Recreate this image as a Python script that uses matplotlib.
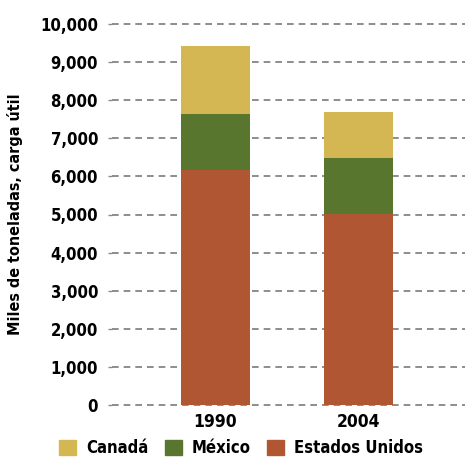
import matplotlib
matplotlib.use("Agg")
import matplotlib.pyplot as plt
from matplotlib.patches import Patch
import numpy as np

# Datos (miles de toneladas, carga útil)
years = ["1990", "2004"]
estados_unidos = [6180, 5020]
mexico = [1455, 1460]
canada = [1790, 1210]

series_names = ["Canadá", "México", "Estados Unidos"]
colors = {"Canadá": "#D4B652", "México": "#59762E", "Estados Unidos": "#B05632"}

plt.rcParams['font.family'] = ['DejaVu Sans']
plt.rcParams['font.stretch'] = 'condensed'
plt.rcParams['font.weight'] = 'bold'
plt.rcParams['axes.labelweight'] = 'bold'

fig = plt.figure(figsize=(4.7, 4.7), dpi=100)
ax = fig.add_axes([112 / 470, 65 / 470, 353 / 470, 381 / 470])

x = np.arange(len(years))
w = 0.483
us = np.array(estados_unidos)
mx = np.array(mexico)
ca = np.array(canada)
ax.bar(x, us, w, color=colors["Estados Unidos"], zorder=3)
ax.bar(x, mx, w, bottom=us, color=colors["México"], zorder=3)
ax.bar(x, ca, w, bottom=us + mx, color=colors["Canadá"], zorder=3)

ax.set_xlim(-0.723, 1.745)
ax.set_ylim(0, 10000)
ticks = np.arange(0, 10001, 1000)
ax.set_yticks(ticks)
ax.set_yticklabels([f"{t:,}" for t in ticks])
for t in ticks:
    ax.axhline(t, color="#7a7a7a", lw=1.2, ls=(0, (4, 3)), zorder=1, clip_on=False)

ax.set_xticks(x)
ax.set_xticklabels(years)
for s in ax.spines.values():
    s.set_visible(False)
ax.tick_params(axis="y", length=3, width=1, color="#8a8a8a", pad=7, labelsize=12)
ax.tick_params(axis="x", length=0, pad=6, labelsize=12.5)
ax.set_ylabel("Miles de toneladas, carga útil", fontsize=11.5, labelpad=12)

handles = [Patch(color=colors[n]) for n in series_names]
fig.legend(handles, series_names, loc="lower center", bbox_to_anchor=(0.513, -0.005),
           ncol=3, frameon=False, fontsize=12, handlelength=1.0, handleheight=1.0,
           handletextpad=0.6, columnspacing=1.0)

fig.savefig("out.png", dpi=100)
